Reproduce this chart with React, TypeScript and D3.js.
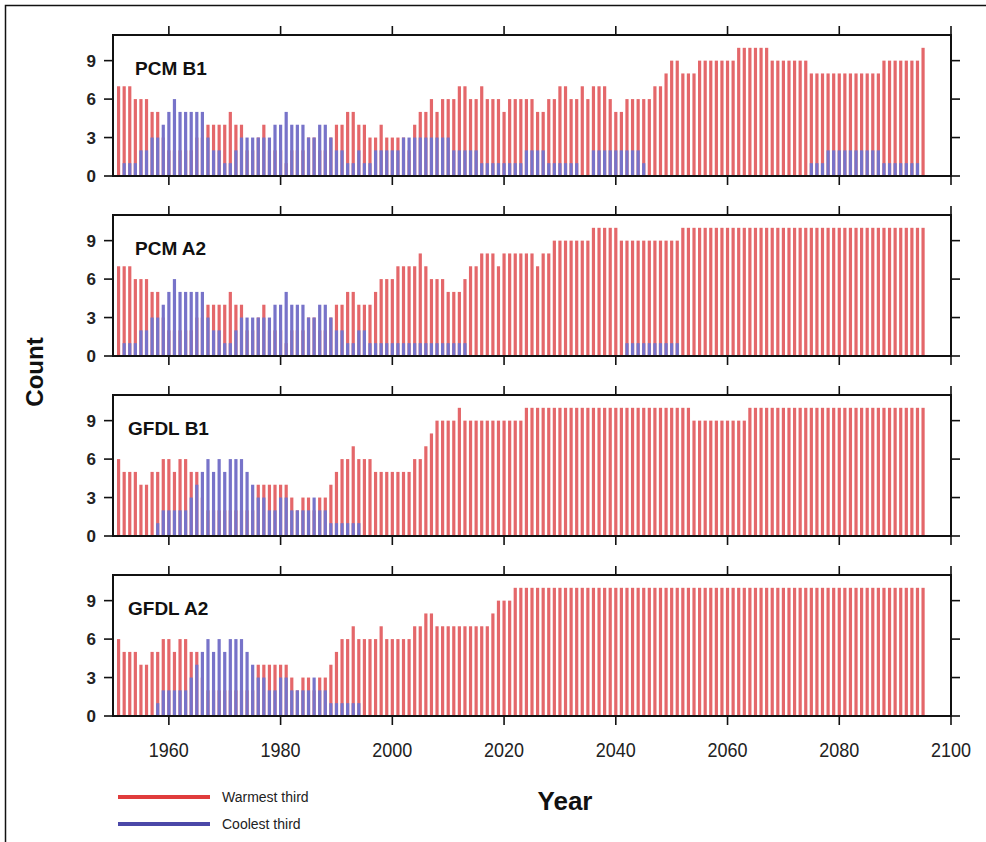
import React from "react";
import * as d3 from "d3";

// Years covered by the bars
const years: number[] = d3.range(1951, 2096);

// Counts per year (rows of ten years, starting 1951)
const pcmB1Warm = [
  7, 7, 7, 6, 6, 6, 5, 5, 3, 2,
  2, 2, 2, 2, 3, 3, 4, 4, 4, 4,
  5, 4, 4, 2, 2, 3, 4, 2, 2, 2,
  1, 2, 2, 2, 3, 3, 2, 2, 3, 4,
  4, 5, 5, 4, 4, 3, 3, 4, 3, 3,
  3, 3, 2, 4, 5, 5, 6, 5, 6, 6,
  6, 7, 7, 6, 6, 7, 6, 6, 6, 5,
  6, 6, 6, 6, 6, 5, 5, 6, 6, 7,
  7, 6, 6, 7, 6, 7, 7, 7, 6, 5,
  5, 6, 6, 6, 6, 6, 7, 7, 8, 9,
  9, 8, 8, 8, 9, 9, 9, 9, 9, 9,
  9, 10, 10, 10, 10, 10, 10, 9, 9, 9,
  9, 9, 9, 9, 8, 8, 8, 8, 8, 8,
  8, 8, 8, 8, 8, 8, 8, 9, 9, 9,
  9, 9, 9, 9, 10,
];
const pcmB1Cool = [
  0, 1, 1, 1, 2, 2, 3, 3, 4, 5,
  6, 5, 5, 5, 5, 5, 3, 2, 2, 1,
  1, 2, 3, 3, 3, 3, 3, 3, 4, 4,
  5, 4, 4, 4, 3, 3, 4, 4, 3, 2,
  2, 1, 1, 2, 1, 1, 2, 2, 2, 2,
  2, 3, 3, 3, 3, 3, 3, 3, 3, 3,
  2, 2, 2, 2, 2, 1, 1, 1, 1, 1,
  1, 1, 1, 2, 2, 2, 2, 1, 1, 1,
  1, 1, 1, 0, 0, 2, 2, 2, 2, 2,
  2, 2, 2, 2, 1, 0, 0, 0, 0, 0,
  0, 0, 0, 0, 0, 0, 0, 0, 0, 0,
  0, 0, 0, 0, 0, 0, 0, 0, 0, 0,
  0, 0, 0, 0, 1, 1, 1, 2, 2, 2,
  2, 2, 2, 2, 2, 2, 2, 1, 1, 1,
  1, 1, 1, 1, 0,
];

const pcmA2Warm = [
  7, 7, 7, 6, 6, 6, 5, 5, 3, 2,
  2, 2, 2, 2, 3, 3, 4, 4, 4, 4,
  5, 4, 4, 2, 2, 3, 4, 2, 2, 2,
  1, 2, 2, 2, 3, 3, 2, 2, 3, 4,
  4, 5, 5, 4, 4, 4, 5, 6, 6, 6,
  7, 7, 7, 7, 8, 7, 6, 6, 6, 5,
  5, 5, 6, 7, 7, 8, 8, 8, 7, 8,
  8, 8, 8, 8, 8, 7, 8, 8, 9, 9,
  9, 9, 9, 9, 9, 10, 10, 10, 10, 10,
  9, 9, 9, 9, 9, 9, 9, 9, 9, 9,
  9, 10, 10, 10, 10, 10, 10, 10, 10, 10,
  10, 10, 10, 10, 10, 10, 10, 10, 10, 10,
  10, 10, 10, 10, 10, 10, 10, 10, 10, 10,
  10, 10, 10, 10, 10, 10, 10, 10, 10, 10,
  10, 10, 10, 10, 10,
];
const pcmA2Cool = [
  0, 1, 1, 1, 2, 2, 3, 3, 4, 5,
  6, 5, 5, 5, 5, 5, 3, 2, 2, 1,
  1, 2, 3, 3, 3, 3, 3, 3, 4, 4,
  5, 4, 4, 4, 3, 3, 4, 4, 3, 2,
  2, 1, 1, 2, 2, 1, 1, 1, 1, 1,
  1, 1, 1, 1, 1, 1, 1, 1, 1, 1,
  1, 1, 1, 0, 0, 0, 0, 0, 0, 0,
  0, 0, 0, 0, 0, 0, 0, 0, 0, 0,
  0, 0, 0, 0, 0, 0, 0, 0, 0, 0,
  0, 1, 1, 1, 1, 1, 1, 1, 1, 1,
  1, 0, 0, 0, 0, 0, 0, 0, 0, 0,
  0, 0, 0, 0, 0, 0, 0, 0, 0, 0,
  0, 0, 0, 0, 0, 0, 0, 0, 0, 0,
  0, 0, 0, 0, 0, 0, 0, 0, 0, 0,
  0, 0, 0, 0, 0,
];

const gfdlB1Warm = [
  6, 5, 5, 5, 4, 4, 5, 5, 6, 6,
  5, 6, 6, 5, 5, 3, 2, 2, 2, 2,
  2, 2, 2, 2, 2, 4, 4, 4, 4, 4,
  4, 3, 2, 3, 3, 2, 3, 3, 4, 5,
  6, 6, 7, 6, 6, 6, 5, 5, 5, 5,
  5, 5, 5, 6, 6, 7, 8, 9, 9, 9,
  9, 10, 9, 9, 9, 9, 9, 9, 9, 9,
  9, 9, 9, 10, 10, 10, 10, 10, 10, 10,
  10, 10, 10, 10, 10, 10, 10, 10, 10, 10,
  10, 10, 10, 10, 10, 10, 10, 10, 10, 10,
  10, 10, 10, 9, 9, 9, 9, 9, 9, 9,
  9, 9, 9, 10, 10, 10, 10, 10, 10, 10,
  10, 10, 10, 10, 10, 10, 10, 10, 10, 10,
  10, 10, 10, 10, 10, 10, 10, 10, 10, 10,
  10, 10, 10, 10, 10,
];
const gfdlB1Cool = [
  0, 0, 0, 0, 0, 0, 0, 1, 2, 2,
  2, 2, 2, 3, 4, 5, 6, 5, 6, 5,
  6, 6, 6, 5, 4, 3, 3, 2, 2, 3,
  3, 2, 2, 2, 2, 3, 2, 2, 1, 1,
  1, 1, 1, 1, 0, 0, 0, 0, 0, 0,
  ...new Array(95).fill(0),
];

const gfdlA2Warm = [
  6, 5, 5, 5, 4, 4, 5, 5, 6, 6,
  5, 6, 6, 5, 5, 3, 2, 2, 2, 2,
  2, 2, 2, 2, 2, 4, 4, 4, 4, 4,
  4, 3, 2, 3, 3, 2, 3, 3, 4, 5,
  6, 6, 7, 6, 6, 6, 6, 7, 6, 6,
  6, 6, 6, 7, 7, 8, 8, 7, 7, 7,
  7, 7, 7, 7, 7, 7, 7, 8, 9, 9,
  9, 10, 10, 10, 10, 10, 10, 10, 10, 10,
  10, 10, 10, 10, 10, 10, 10, 10, 10, 10,
  10, 10, 10, 10, 10, 10, 10, 10, 10, 10,
  10, 10, 10, 10, 10, 10, 10, 10, 10, 10,
  10, 10, 10, 10, 10, 10, 10, 10, 10, 10,
  10, 10, 10, 10, 10, 10, 10, 10, 10, 10,
  10, 10, 10, 10, 10, 10, 10, 10, 10, 10,
  10, 10, 10, 10, 10,
];
const gfdlA2Cool = [
  0, 0, 0, 0, 0, 0, 0, 1, 2, 2,
  2, 2, 2, 3, 4, 5, 6, 5, 6, 5,
  6, 6, 6, 5, 4, 3, 3, 2, 2, 3,
  3, 2, 2, 2, 2, 3, 2, 2, 1, 1,
  1, 1, 1, 1, 0, 0, 0, 0, 0, 0,
  ...new Array(95).fill(0),
];

const panelNames = ["PCM B1", "PCM A2", "GFDL B1", "GFDL A2"];
const warmSeries = [pcmB1Warm, pcmA2Warm, gfdlB1Warm, gfdlA2Warm];
const coolSeries = [pcmB1Cool, pcmA2Cool, gfdlB1Cool, gfdlA2Cool];

const yTicks = [0, 3, 6, 9];
const xTicks = [1960, 1980, 2000, 2020, 2040, 2060, 2080, 2100];
const legendLabels = ["Warmest third", "Coolest third"];

const WARM = "#e4676a";
const COOL = "#7773c9";
const FONT = "'Liberation Sans', Arial, Helvetica, sans-serif";

export default function App() {
  const width = 986;
  const height = 842;
  const left = 113;
  const right = 951;
  const panelTop0 = 35;
  const panelStep = 180;
  const panelH = 141;
  const tickLen = 9;
  const barW = 3.2;

  const x = d3.scaleLinear().domain([1950, 2100]).range([left, right]);

  return (
    <svg
      width={width}
      height={height}
      style={{ position: "absolute", left: 0, top: 0, background: "#fff" }}
      fontFamily={FONT}
    >
      <rect x={0} y={0} width={width} height={height} fill="#fff" />
      <rect x={5.5} y={5.5} width={width + 10} height={height + 10} fill="none" stroke="#111" strokeWidth={1.5} />

      {panelNames.map((name, p) => {
        const top = panelTop0 + p * panelStep;
        const y = d3.scaleLinear().domain([0, 11]).range([top + panelH, top]);
        const warm = warmSeries[p];
        const cool = coolSeries[p];
        return (
          <g key={name}>
            {years.map((yr, i) => (
              <rect
                key={"w" + yr}
                x={x(yr) - barW / 2}
                y={y(warm[i])}
                width={barW}
                height={y(0) - y(warm[i])}
                fill={WARM}
              />
            ))}
            {years.map((yr, i) =>
              cool[i] > 0 ? (
                <rect
                  key={"c" + yr}
                  x={x(yr) - barW / 2}
                  y={y(cool[i])}
                  width={barW}
                  height={y(0) - y(cool[i])}
                  fill={COOL}
                />
              ) : null
            )}
            <rect
              x={left}
              y={top}
              width={right - left}
              height={panelH}
              fill="none"
              stroke="#111"
              strokeWidth={2}
            />
            {yTicks.map((t) => (
              <g key={"yt" + t}>
                <line x1={left - tickLen} x2={left} y1={y(t)} y2={y(t)} stroke="#111" strokeWidth={1.6} />
                <line x1={right} x2={right + tickLen} y1={y(t)} y2={y(t)} stroke="#111" strokeWidth={1.6} />
                <text
                  x={left - 17}
                  y={y(t)}
                  dy="0.36em"
                  textAnchor="end"
                  fontSize={17}
                  fontWeight="bold"
                  fill="#222"
                >
                  {t}
                </text>
              </g>
            ))}
            {xTicks.map((t) => (
              <g key={"xt" + t}>
                <line x1={x(t)} x2={x(t)} y1={top + panelH} y2={top + panelH + tickLen} stroke="#111" strokeWidth={1.6} />
                <line x1={x(t)} x2={x(t)} y1={top - tickLen} y2={top} stroke="#111" strokeWidth={1.6} />
              </g>
            ))}
            <text
              x={p < 2 ? 135 : 128}
              y={top + 40}
              fontSize={19}
              fontWeight="bold"
              fill="#111"
            >
              {name}
            </text>
          </g>
        );
      })}

      {xTicks.map((t) => (
        <text
          key={"xl" + t}
          x={x(t)}
          y={757}
          textAnchor="middle"
          fontSize={20}
          fill="#222"
          transform={`translate(${x(t)},0) scale(0.9,1) translate(${-x(t)},0)`}
        >
          {t}
        </text>
      ))}

      <text x={565} y={810} textAnchor="middle" fontSize={26} fontWeight="bold" fill="#111">
        Year
      </text>
      <text
        transform="translate(43,372) rotate(-90)"
        textAnchor="middle"
        fontSize={24}
        fontWeight="bold"
        fill="#111"
      >
        Count
      </text>

      {legendLabels.map((label, i) => (
        <g key={label}>
          <line
            x1={118}
            x2={210}
            y1={797 + i * 27}
            y2={797 + i * 27}
            stroke={i === 0 ? "#e03c3c" : "#4b48a8"}
            strokeWidth={4}
          />
          <text x={222} y={802 + i * 27} fontSize={14} fill="#222">
            {label}
          </text>
        </g>
      ))}
    </svg>
  );
}
